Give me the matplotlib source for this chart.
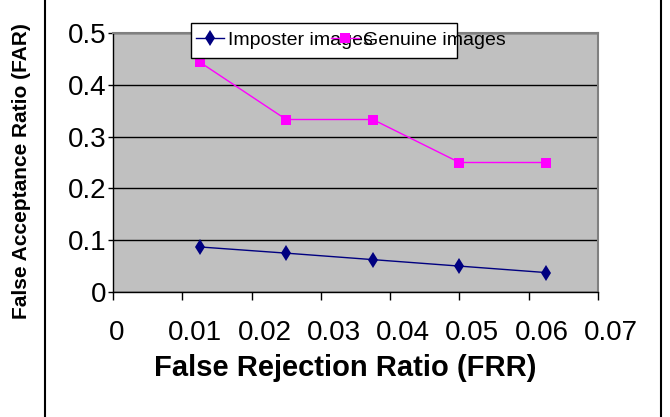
import numpy as np
import matplotlib
matplotlib.use("Agg")
import matplotlib.pyplot as plt
import matplotlib.transforms as mtransforms
from matplotlib.lines import Line2D
from matplotlib.patches import Rectangle

## Data
frr = [0.0125, 0.025, 0.0375, 0.05, 0.0625]
imposter_far = [0.087, 0.075, 0.0625, 0.05, 0.0375]
genuine_far = [0.444, 0.333, 0.333, 0.25, 0.25]

x_ticks = [0, 0.01, 0.02, 0.03, 0.04, 0.05, 0.06, 0.07]
x_ticklabels = ["0", "0.01", "0.02", "0.03", "0.04", "0.05", "0.06", "0.07"]
y_ticks = [0, 0.1, 0.2, 0.3, 0.4, 0.5]
y_ticklabels = ["0", "0.1", "0.2", "0.3", "0.4", "0.5"]

plt.rcParams["font.family"] = ["Liberation Sans", "DejaVu Sans"]

W, H = 670, 417
fig = plt.figure(figsize=(W / 100, H / 100), dpi=100)
ax = fig.add_axes([113 / W, 1 - 292 / H, (598 - 113) / W, (292 - 33) / H])
ax.set_facecolor("#C0C0C0")

# Plotting
ax.plot(frr, imposter_far, color="#000080", lw=1, marker="d", markersize=8,
        markeredgewidth=0, label="Imposter images", zorder=3)
ax.plot(frr, genuine_far, color="#FF00FF", lw=1, marker="s", markersize=7,
        markeredgewidth=0, label="Genuine images", zorder=3)

ax.set_xlim(0, 0.07)
ax.set_ylim(0, 0.5)
ax.set_xticks(x_ticks)
ax.set_xticklabels(x_ticklabels, fontsize=20)
ax.set_yticks(y_ticks)
ax.set_yticklabels(y_ticklabels, fontsize=20)
ax.tick_params(axis="x", direction="out", length=5.5, width=1, pad=15)
ax.tick_params(axis="y", direction="out", length=3.6, width=1, pad=1)

# Excel spreads the x labels a bit wider than the ticks
for i, lab in enumerate(ax.get_xticklabels()):
    dx = 4 if i == 0 else 13
    lab.set_transform(lab.get_transform() +
                      mtransforms.ScaledTranslation(dx / 100, 0, fig.dpi_scale_trans))

ax.yaxis.grid(True, color="black", lw=1)
ax.set_axisbelow(True)
for s in ["left", "bottom"]:
    ax.spines[s].set_color("black")
    ax.spines[s].set_linewidth(1)
for s in ["top", "right"]:
    ax.spines[s].set_color("#808080")
    ax.spines[s].set_linewidth(1.5)

fig.text(345 / W, 1 - 368 / H, "False Rejection Ratio (FRR)", fontsize=21,
         fontweight="bold", ha="center", va="center")
fig.text(22 / W, 1 - 171 / H, "False Acceptance Ratio (FAR)", fontsize=15,
         fontweight="bold", ha="center", va="center", rotation=90)

# legend: entries overlap like in the original, box drawn separately
leg = ax.legend(loc="center left", bbox_to_anchor=(196 / W, 1 - 40 / H),
                bbox_transform=fig.transFigure, ncol=2, frameon=False,
                fontsize=14, handlelength=1.45, handletextpad=0.2,
                columnspacing=-2.15, borderpad=0, borderaxespad=0)
leg.set_zorder(6)
box = Rectangle((191 / W, 1 - 58 / H), (457 - 191) / W, 35 / H,
                transform=fig.transFigure, facecolor="white",
                edgecolor="black", lw=1, zorder=5, clip_on=False)
ax.add_artist(box)

# outer chart frame (left / right edges)
fig.add_artist(Line2D([45 / W, 45 / W], [0, 1], color="black", lw=1.5))
fig.add_artist(Line2D([661 / W, 661 / W], [0, 1], color="black", lw=1.5))

plt.savefig("out.png", dpi=100)
